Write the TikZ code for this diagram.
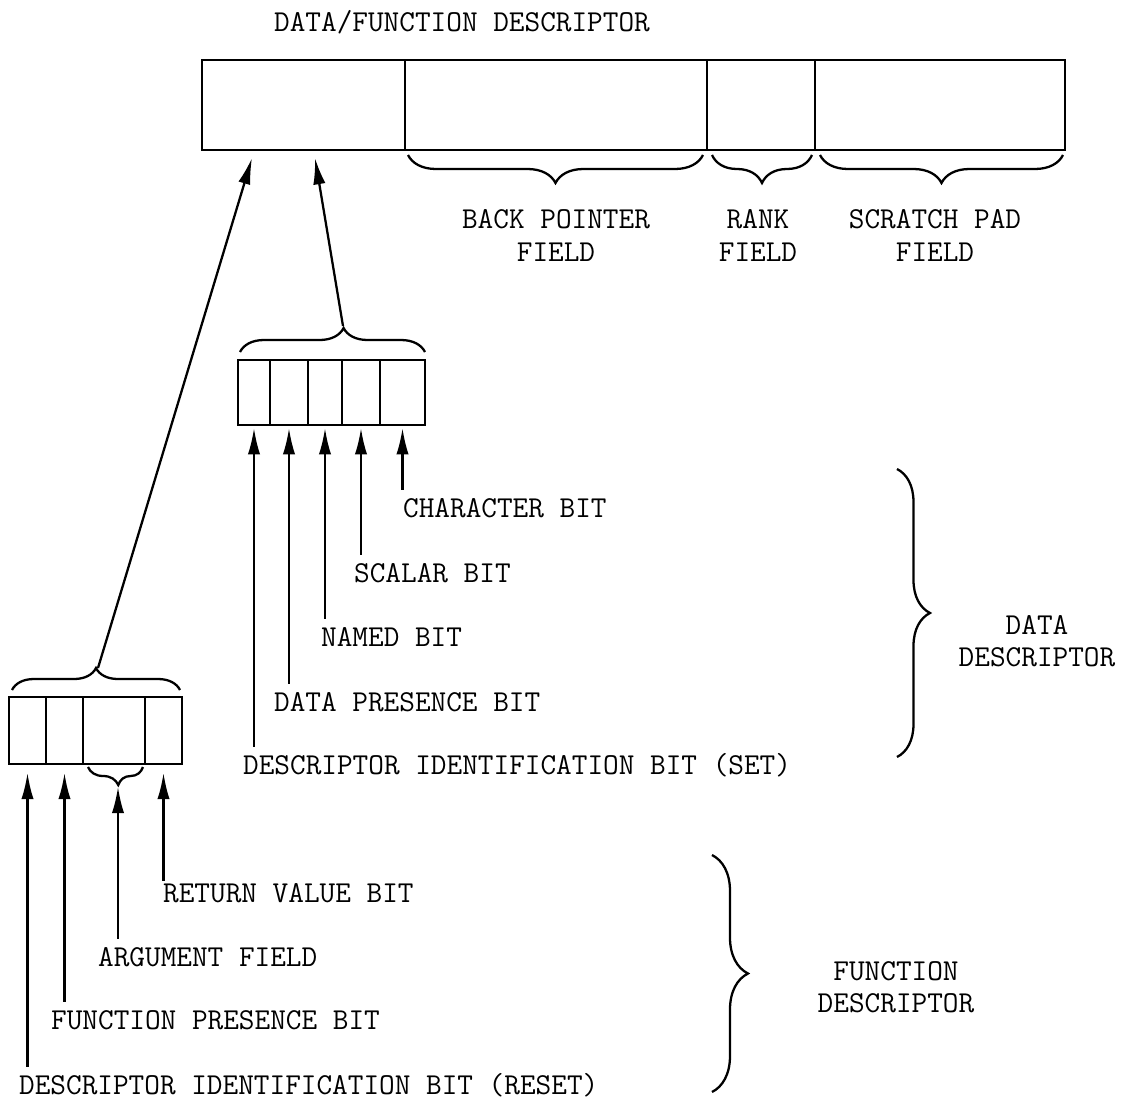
\documentclass[tikz,border=0pt]{standalone}
\usetikzlibrary{calc,arrows.meta,decorations.pathreplacing}

\begin{document}
\begin{tikzpicture}[x=0.02cm,y=-0.02cm,line width=1.3pt,>={Latex[length=15pt,width=7pt]},
  lbl/.style={font=\fontsize{17.3}{18.5}\selectfont\ttfamily,inner sep=0pt,text height=10.5pt,text depth=0pt},
  two/.style={font=\fontsize{17.3}{18.5}\selectfont\ttfamily,inner sep=0pt,align=center},
  field/.style={draw,minimum height=1.8cm,inner sep=0pt,outer sep=0pt,anchor=north west},
  bit/.style={draw,inner sep=0pt,outer sep=0pt},
  brc/.style={decorate,decoration={brace,amplitude=#1}},
  ptr/.style={->,shorten <=4.5pt}]
  \useasboundingbox (0,0) rectangle (1136,1102);
  % descriptor word
  \node[lbl] (title) at (462,22) {DATA/FUNCTION DESCRIPTOR};
  \node[field,minimum width=4.06cm] (tag) at (202,60) {};
  \node[field,minimum width=6.04cm] (back) at (tag.north east) {};
  \node[field,minimum width=2.16cm] (rank) at (back.north east) {};
  \node[field,minimum width=5cm] (pad) at (rank.north east) {};
  % field braces
  \draw[brc=0.56cm] (703,155) -- (408,155);
  \draw[brc=0.56cm] (812,155) -- (712,155);
  \draw[brc=0.56cm] (1063,155) -- (820,155);
  \node[two] (backlbl) at (556,235.5) {BACK POINTER\\FIELD};
  \node[two] (ranklbl) at (758,235.5) {RANK\\FIELD};
  \node[two] (padlbl) at (935,235.5) {SCRATCH PAD\\FIELD};

  % data descriptor bits
  \foreach \n/\xa/\xb in {1/238/270,2/270/308,3/308/342,4/342/380,5/380/425}
    \node[bit,minimum width={(\xb-\xa)*0.02cm},minimum height=1.3cm] (d\n) at ({(\xa+\xb)/2},392.5) {};
  \draw[brc=0.48cm,decoration={aspect=0.56}] (240,352) -- (425,352);
  \node[lbl,anchor=west] (chr) at (402,508) {CHARACTER BIT};
  \node[lbl,anchor=west] (scl) at (353,573) {SCALAR BIT};
  \node[lbl,anchor=west] (nmd) at (320,637) {NAMED BIT};
  \node[lbl,anchor=west] (dpr) at (273,702) {DATA PRESENCE BIT};
  \node[lbl,anchor=west] (dset) at (242,765) {DESCRIPTOR IDENTIFICATION BIT (SET)};
  \foreach \n/\l in {1/dset,2/dpr,3/nmd,4/scl,5/chr}
    \draw[ptr,shorten >=1.7pt] (d\n.south |- \l.north) -- (d\n.south);

  % function descriptor bits
  \foreach \n/\xa/\xb in {1/9/46,2/46/83,3/83/145,4/145/182}
    \node[bit,minimum width={(\xb-\xa)*0.02cm},minimum height=1.34cm] (f\n) at ({(\xa+\xb)/2},730.5) {};
  \draw[brc=0.44cm] (12,690) -- (180,690);
  \draw[brc=0.36cm,decoration={mirror,aspect=0.55}] (88,767) -- (143,767);
  \coordinate (argtip) at (118,785);
  \node[lbl,anchor=west] (ret) at (162,893) {RETURN VALUE BIT};
  \node[lbl,anchor=west] (arg) at (97,957) {ARGUMENT FIELD};
  \node[lbl,anchor=west] (fpr) at (50,1020) {FUNCTION PRESENCE BIT};
  \node[lbl,anchor=west] (freset) at (18,1085) {DESCRIPTOR IDENTIFICATION BIT (RESET)};
  \draw[ptr,shorten >=5pt] (f1.south |- freset.north) -- (f1.south);
  \draw[ptr,shorten >=5pt] (f2.south |- fpr.north) -- (f2.south);
  \draw[ptr,shorten >=1pt] (argtip |- arg.north) -- (argtip);
  \draw[ptr,shorten <=1pt,shorten >=5pt] (f4.south |- ret.north) -- (f4.south);

  % pointers up to the descriptor word
  \coordinate (ftip) at (98,668);
  \coordinate (dtip) at (343,326);
  \coordinate (tagA) at (252,158);
  \coordinate (tagB) at (315,158);
  \draw[->] (ftip) -- (tagA);
  \draw[->] (dtip) -- (tagB);

  % descriptor kinds
  \draw[brc=0.66cm] (897,469) -- (897,757);
  \draw[brc=0.72cm] (712,855) -- (712,1092);
  \node[two] (ddesc) at (1037,641) {DATA\\DESCRIPTOR};
  \node[two] (fdesc) at (896,987) {FUNCTION\\DESCRIPTOR};
\end{tikzpicture}
\end{document}
